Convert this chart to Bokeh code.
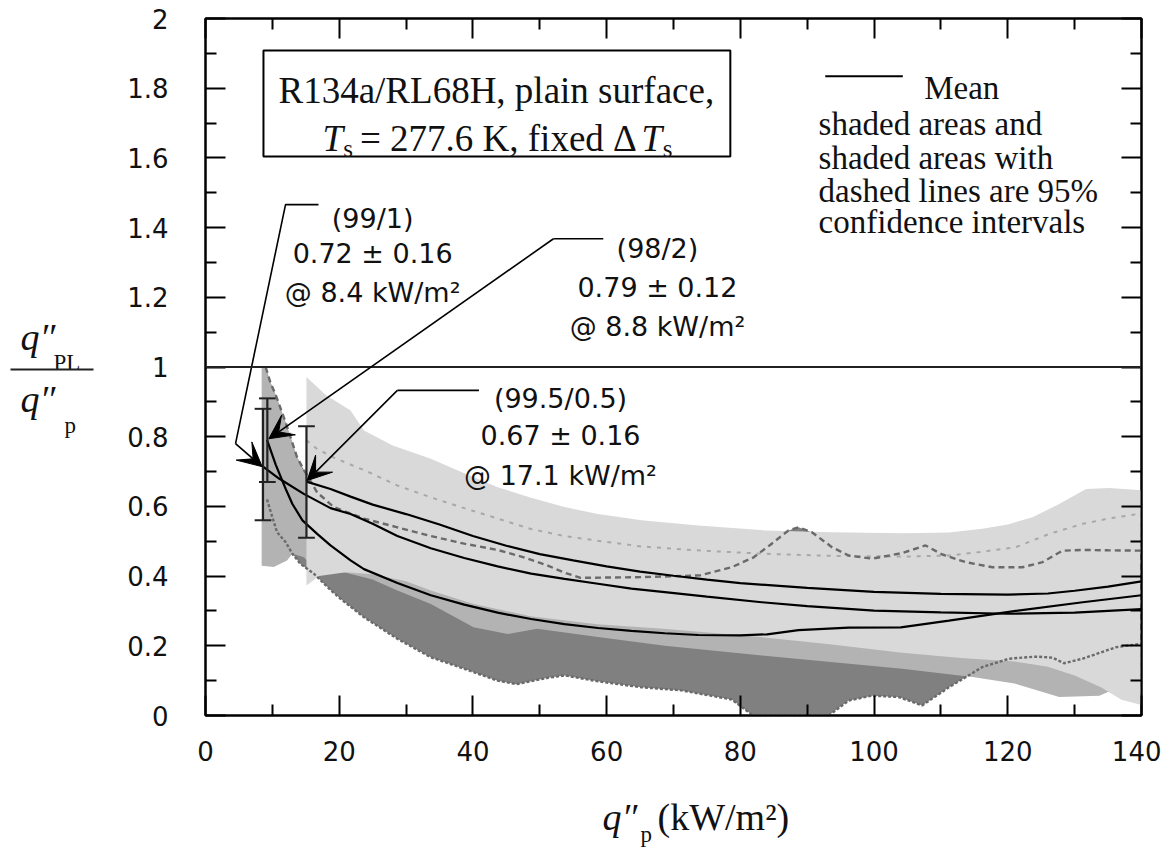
from bokeh.plotting import figure
from bokeh.layouts import row, column
from bokeh.models import Range1d, LinearAxis, FixedTicker, Label, Arrow, VeeHead, Span
from bokeh.embed import file_html
from bokeh.resources import INLINE
from bokeh.core.properties import value

# ---------------- axes / ticks ----------------
x_ticks = [0, 20, 40, 60, 80, 100, 120, 140]
x_minor = [10, 30, 50, 70, 90, 110, 130]
y_ticks = [0, 0.2, 0.4, 0.6, 0.8, 1.0, 1.2, 1.4, 1.6, 1.8, 2.0]
y_tick_labels = ["0", "0.2", "0.4", "0.6", "0.8", "1", "1.2", "1.4", "1.6", "1.8", "2"]
y_minor = [0.1, 0.3, 0.5, 0.7, 0.9, 1.1, 1.3, 1.5, 1.7, 1.9]

# ---------------- mean curves ----------------
mean_995_x = [15.1, 18.7, 21.7, 25, 30, 35, 40, 45, 50, 55, 60, 65, 70, 75, 80, 90, 100, 110, 120, 126, 130, 135, 140]
mean_995_y = [0.671, 0.650, 0.628, 0.605, 0.578, 0.548, 0.515, 0.487, 0.463, 0.445, 0.428, 0.413, 0.401, 0.39, 0.38,
              0.366, 0.355, 0.349, 0.347, 0.350, 0.358, 0.370, 0.385]
mean_99_x = [8.6, 11, 14.7, 18.7, 21.7, 25, 28.7, 33.7, 38.7, 43.7, 48.7, 53.7, 58.7, 63.7, 68.7, 75, 83.2, 90, 100,
             110, 120, 130, 140]
mean_99_y = [0.714, 0.68, 0.636, 0.595, 0.578, 0.55, 0.515, 0.48, 0.452, 0.428, 0.407, 0.392, 0.378, 0.364, 0.354,
             0.341, 0.325, 0.314, 0.301, 0.296, 0.292, 0.295, 0.305]
mean_98_x = [9.2, 10.5, 12, 13, 14.5, 16.7, 18.7, 21.7, 23.7, 28.7, 33.7, 38.7, 43.7, 48.7, 53.7, 58.7, 63.7, 68.7,
             73.7, 80, 84, 88.7, 96.2, 104, 111.2, 121.2, 131.2, 140]
mean_98_y = [0.791, 0.72, 0.65, 0.607, 0.56, 0.521, 0.488, 0.445, 0.42, 0.38, 0.345, 0.318, 0.295, 0.277, 0.262,
             0.251, 0.243, 0.236, 0.231, 0.23, 0.233, 0.245, 0.252, 0.253, 0.272, 0.300, 0.325, 0.345]

# ---------------- confidence bands ----------------
# dark band (98/2), dashed bounds
d_up_x = [9.0, 9.7, 10.5, 12.0, 13.7, 14.5, 16.7, 19.2, 23.7, 28.7, 33.7, 38.7, 43.7, 47.6, 51.2, 53.7, 56.1, 65.2,
          74, 78.7, 82, 84.5, 87.2, 88.7, 90.7, 93.7, 96.2, 99.7, 104.2, 107.7, 110.2, 113.7, 117.7, 122.2, 125.2,
          128.2, 131.2, 135, 140]
d_up_y = [1.0, 0.956, 0.92, 0.84, 0.741, 0.712, 0.64, 0.598, 0.565, 0.54, 0.515, 0.493, 0.475, 0.454, 0.43, 0.41,
          0.395, 0.397, 0.402, 0.4255, 0.454, 0.49, 0.531, 0.54, 0.526, 0.483, 0.459, 0.45, 0.466, 0.488, 0.462,
          0.44, 0.4255, 0.4255, 0.44, 0.473, 0.475, 0.474, 0.473]
d_lo_x = [9.2, 10.0, 10.7, 12.0, 13.0, 14.2, 16.2, 18.7, 20.2, 23.7, 28.7, 33.7, 38.7, 43.7, 46.5, 51.2, 53.7, 58.7,
          65.2, 71.2, 78.7, 81.9, 93.2, 96.2, 99.7, 103.7, 107.2, 111.2, 116.2, 120.2, 124.2, 126.7, 128.4, 131.2,
          136.2, 140]
d_lo_y = [0.62, 0.569, 0.526, 0.497, 0.464, 0.435, 0.407, 0.36, 0.335, 0.282, 0.22, 0.167, 0.134, 0.100, 0.09, 0.108,
          0.115, 0.098, 0.081, 0.072, 0.046, 0.0, 0.0, 0.043, 0.057, 0.053, 0.029, 0.081, 0.139, 0.163, 0.169, 0.166,
          0.150, 0.163, 0.196, 0.206]

# medium band (99/1)
m_up_x = [8.4, 8.9, 9.7, 10.5, 12.0, 13.7, 14.7, 17, 20, 25, 30, 40, 50, 60, 80, 100, 120, 140]
m_up_y = [1.0, 1.0, 0.956, 0.92, 0.84, 0.741, 0.70, 0.64, 0.60, 0.55, 0.51, 0.46, 0.43, 0.41, 0.40, 0.40, 0.41, 0.42]
m_lo_x = [8.4, 10.2, 12.2, 13.0, 14.7, 16.7, 20.7, 25, 28.7, 33.7, 40.1, 45.2, 49.6, 58.7, 68.7, 83.2, 104.2, 115,
          121, 127.7, 133.7, 140]
m_lo_y = [0.43, 0.426, 0.445, 0.464, 0.454, 0.411, 0.411, 0.39, 0.359, 0.32, 0.253, 0.234, 0.249, 0.225, 0.2, 0.172,
          0.134, 0.11, 0.092, 0.053, 0.057, 0.11]

# light band (99.5/0.5)
l_up_x = [15.1, 18, 21.7, 23.7, 28, 33.7, 38.7, 43.7, 48.7, 53.7, 58.7, 65.2, 73.7, 83.7, 93.7, 104.2, 111.2, 116.2,
          120, 123.7, 127.7, 131.7, 135.2, 140]
l_up_y = [0.971, 0.92, 0.875, 0.818, 0.775, 0.737, 0.695, 0.655, 0.625, 0.598, 0.578, 0.56, 0.545, 0.531, 0.526,
          0.523, 0.525, 0.536, 0.548, 0.569, 0.607, 0.650, 0.653, 0.646]
l_lo_x = [15.1, 17, 21, 25, 30, 33.7, 40.1, 48.6, 58.6, 68.5, 83, 93, 104.2, 113, 121, 126, 130, 134, 137, 140]
l_lo_y = [0.373, 0.40, 0.411, 0.405, 0.385, 0.359, 0.32, 0.285, 0.262, 0.249, 0.225, 0.205, 0.18, 0.165, 0.155, 0.14,
          0.115, 0.08, 0.045, 0.03]

# light dashed bound
ld_x = [15.1, 16.6, 19.2, 24.2, 28.7, 33.7, 38.7, 43.7, 48.7, 53.7, 59.2, 65.2, 74.2, 83.7, 93.7, 104.2, 111.2, 116.2,
        121.2, 126.2, 131.2, 135, 138.7, 140, 140]
ld_y = [0.79, 0.766, 0.74, 0.70, 0.66, 0.626, 0.595, 0.565, 0.535, 0.515, 0.50, 0.485, 0.473, 0.464, 0.458, 0.456,
        0.459, 0.47, 0.483, 0.521, 0.550, 0.565, 0.576, 0.58, 0.03]

# ---------------- error bars (first points) ----------------
err_x = [8.6, 9.25, 15.1]
err_mean = [0.72, 0.79, 0.67]
err_half = [0.16, 0.12, 0.16]

# ---------------- annotation texts ----------------
ann_blocks = [
    (["(99/1)", "0.72 \u00b1 0.16", "@ 8.4 kW/m\u00b2"], 25.0, [1.426, 1.326, 1.215]),
    (["(98/2)", "0.79 \u00b1 0.12", "@ 8.8 kW/m\u00b2"], 67.6, [1.340, 1.228, 1.116]),
    (["(99.5/0.5)", "0.67 \u00b1 0.16", "@ 17.1 kW/m\u00b2"], 53.1, [0.910, 0.803, 0.689]),
]
leader_paths = [
    ([16.9, 11.97, 4.49], [1.466, 1.466, 0.780], (8.48, 0.714)),
    ([59.5, 52.05], [1.368, 1.368], (9.47, 0.794)),
    ([40.9, 28.7], [0.933, 0.933], (15.2, 0.674)),
]
note_lines = ["shaded areas and", "shaded areas with", "dashed lines are 95%", "confidence intervals"]

SANS = "DejaVu Sans"
SERIF = "Liberation Serif"

# ---------------- layout sizes ----------------
YL_W = 105                     # width of the y-label strip
FW, FH = 936, 697
BL, BT, BR, BB = 100, 18, 20, 58
MAIN_W = BL + FW + BR
MAIN_H = BT + FH + BB
XL_H = 78
F_LEFT = YL_W + BL             # page x of the plot frame's left edge

# ---------------- main figure ----------------
p = figure(frame_width=FW, frame_height=FH, x_range=Range1d(0, 140), y_range=Range1d(0, 2),
           output_backend="svg", toolbar_location=None,
           min_border_left=BL, min_border_right=BR, min_border_top=BT, min_border_bottom=BB,
           x_axis_location=None, y_axis_location=None)
p.xgrid.visible = False
p.ygrid.visible = False
p.outline_line_color = "black"
p.outline_line_width = 2
p.background_fill_color = "white"
p.border_fill_color = "white"


def style_axis(ax, show):
    ax.axis_line_color = "black"
    ax.axis_line_width = 2
    ax.major_tick_in = 20
    ax.major_tick_out = 0
    ax.minor_tick_in = 11
    ax.minor_tick_out = 0
    ax.major_tick_line_width = 2
    ax.minor_tick_line_width = 2
    ax.major_tick_line_color = "black"
    ax.minor_tick_line_color = "black"
    ax.major_label_text_font = SANS
    ax.major_label_text_font_size = "26px"
    ax.major_label_text_color = "#111111"
    if not show:
        ax.major_label_text_font_size = "1px"
        ax.major_label_standoff = 0


xb = LinearAxis(ticker=FixedTicker(ticks=x_ticks, minor_ticks=x_minor))
style_axis(xb, True)
xb.major_label_standoff = 25
p.add_layout(xb, "below")
xa = LinearAxis(ticker=FixedTicker(ticks=x_ticks, minor_ticks=x_minor),
                major_label_overrides={t: "" for t in x_ticks})
style_axis(xa, False)
p.add_layout(xa, "above")
yl = LinearAxis(ticker=FixedTicker(ticks=y_ticks, minor_ticks=y_minor),
                major_label_overrides={v: s for v, s in zip(y_ticks, y_tick_labels)})
style_axis(yl, True)
yl.major_label_standoff = 37
p.add_layout(yl, "left")
yr = LinearAxis(ticker=FixedTicker(ticks=y_ticks, minor_ticks=y_minor),
                major_label_overrides={v: "" for v in y_ticks})
style_axis(yr, False)
p.add_layout(yr, "right")

LIGHT, MED, DARK = "#d9d9d9", "#b3b3b3", "#808080"

# bands: dark first, medium, light on top
p.patch(d_up_x + d_lo_x[::-1], d_up_y + d_lo_y[::-1], fill_color=DARK, line_color=None)
p.patch(m_up_x + m_lo_x[::-1], m_up_y + m_lo_y[::-1], fill_color=MED, line_color=None)
p.patch(l_up_x + l_lo_x[::-1], l_up_y + l_lo_y[::-1], fill_color=LIGHT, line_color=None)

# dashed bounds
p.line(ld_x, ld_y, line_color="#a8a8a8", line_width=2, line_dash="4 6")
p.line(d_up_x + [d_lo_x[-1]], d_up_y + [d_lo_y[-1]], line_color="#6a6a6a", line_width=2.4, line_dash="6 4")
p.line(d_lo_x, d_lo_y, line_color="#6a6a6a", line_width=2.4, line_dash="3 2")

# reference line at 1
p.add_layout(Span(location=1, dimension="width", line_color="#222222", line_width=2))

# mean curves
for xs, ys in ((mean_995_x, mean_995_y), (mean_99_x, mean_99_y), (mean_98_x, mean_98_y)):
    p.line(xs, ys, line_color="black", line_width=2.2)

# error bars
cap = 1.25
p.segment(err_x, [m - h for m, h in zip(err_mean, err_half)], err_x, [m + h for m, h in zip(err_mean, err_half)],
          line_color="#222222", line_width=2.2)
for sign in (-1, 1):
    yy = [m + sign * h for m, h in zip(err_mean, err_half)]
    p.segment([x - cap for x in err_x], yy, [x + cap for x in err_x], yy, line_color="#222222", line_width=2)

# leaders + arrows
for xs, ys, tip in leader_paths:
    p.line(xs, ys, line_color="black", line_width=1.6)
    p.add_layout(Arrow(end=VeeHead(size=24, fill_color="black", line_color="black", line_width=1),
                       x_start=xs[-1], y_start=ys[-1], x_end=tip[0], y_end=tip[1],
                       line_color="black", line_width=1.6))

for lines, cx, ys in ann_blocks:
    for t, yy in zip(lines, ys):
        p.add_layout(Label(x=cx, y=yy, text=t, text_align="center", text_baseline="alphabetic",
                           text_font=SANS, text_font_size="27px", text_color="#111111"))

# info box
box_x = [8.67, 78.5]
box_y = [1.604, 1.908]
p.quad(left=[box_x[0]], right=[box_x[1]], bottom=[box_y[0]], top=[box_y[1]], fill_color=None,
       line_color="black", line_width=2)
p.add_layout(Label(x=43.5, y=1.793, text="R134a/RL68H, plain surface,", text_align="center",
                   text_baseline="alphabetic", text_font=SERIF, text_font_size="37px", text_color="#111111"))
pieces = [("T", 17.5, 1.656, "37px", "italic"), ("s", 20.6, 1.627, "25px", "normal"),
          ("= 277.6 K, fixed \u0394", 23.1, 1.656, "37px", "normal"), ("T", 65.2, 1.656, "37px", "italic"),
          ("s", 68.4, 1.627, "25px", "normal")]
for t, xx, yy, fs, st in pieces:
    p.add_layout(Label(x=xx, y=yy, text=t, text_align="left", text_baseline="alphabetic", text_font=SERIF,
                       text_font_size=fs, text_font_style=st, text_color="#111111"))

# legend
p.line([92.7, 104.3], [1.834, 1.834], line_color="black", line_width=2)
p.add_layout(Label(x=107.5, y=1.80, text="Mean", text_baseline="alphabetic", text_font=SERIF,
                   text_font_size="33px", text_color="#111111"))
for t, yy in zip(note_lines, [1.696, 1.601, 1.506, 1.415]):
    p.add_layout(Label(x=91.7, y=yy, text=t, text_baseline="alphabetic", text_font=SERIF,
                       text_font_size="33px", text_color="#111111"))


def blank_fig(w, h, xr, yr, bl=0, br=0):
    f = figure(frame_width=w, frame_height=h, x_range=Range1d(*xr), y_range=Range1d(*yr),
               output_backend="svg", toolbar_location=None, min_border=0,
               min_border_left=bl, min_border_right=br, min_border_top=0, min_border_bottom=0,
               x_axis_location=None, y_axis_location=None)
    f.xgrid.visible = False
    f.ygrid.visible = False
    f.outline_line_color = None
    f.background_fill_color = "white"
    f.border_fill_color = "white"
    return f


# ---------------- y-axis label strip (page pixel coordinates) ----------------
yfig = blank_fig(YL_W, MAIN_H + XL_H, (0, YL_W), (MAIN_H + XL_H, 0))
ylab_text = ["q\u2033", "PL", "q\u2033", "p"]
ylab_x = [20, 53, 20, 64]
ylab_y = [336, 362, 398, 425]
ylab_size = ["38px", "23px", "38px", "23px"]
ylab_style = ["italic", "normal", "italic", "normal"]
for t, xx, yy, fs, st in zip(ylab_text, ylab_x, ylab_y, ylab_size, ylab_style):
    yfig.text(x=[xx], y=[yy], text=[t], text_font=value(SERIF), text_font_size=fs, text_font_style=st,
              text_baseline="alphabetic", text_align="left", text_color="#111111")
yfig.line([10, 93], [369, 369], line_color="#222222", line_width=1.8)

# ---------------- x-axis label strip (frame aligned with the main frame) ----------------
xfig = blank_fig(FW, XL_H, (F_LEFT, F_LEFT + FW), (MAIN_H + XL_H, MAIN_H), bl=BL, br=BR)
xlab_text = ["q\u2033", "p", "(kW/m\u00b2)"]
xlab_x = [602, 640, 657]
xlab_y = [816, 834, 816]
xlab_size = ["38px", "23px", "38px"]
xlab_style = ["italic", "normal", "normal"]
for t, xx, yy, fs, st in zip(xlab_text, xlab_x, xlab_y, xlab_size, xlab_style):
    xfig.text(x=[xx], y=[yy], text=[t], text_font=value(SERIF), text_font_size=fs, text_font_style=st,
              text_baseline="alphabetic", text_align="left", text_color="#111111")

layout = row(yfig, column(p, xfig, spacing=0), spacing=0)
open("out.html", "w").write(file_html(layout, INLINE))
